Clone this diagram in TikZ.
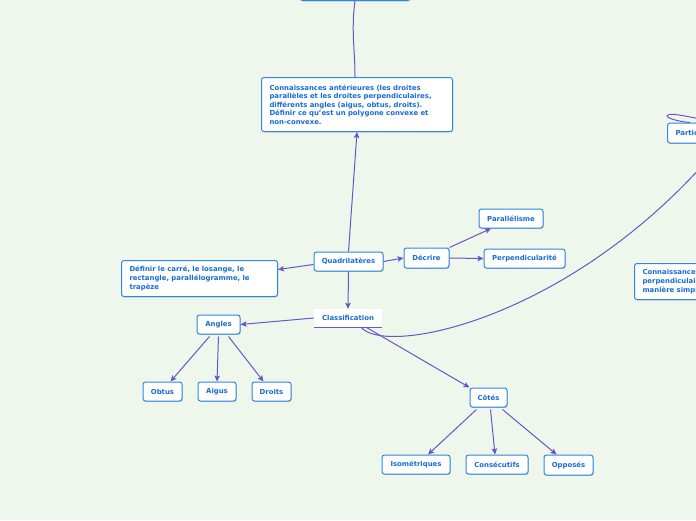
\documentclass[tikz,border=0pt]{standalone}
\usepackage{fontspec}
\setmainfont{DejaVu Sans}
\usetikzlibrary{arrows.meta,shadows,calc}
\definecolor{bgc}{RGB}{239,247,236}
\definecolor{nodeblue}{RGB}{44,136,228}
\definecolor{textblue}{RGB}{22,108,214}
\definecolor{linepurple}{RGB}{104,86,200}
\tikzset{
  box/.style={draw=nodeblue, line width=1pt, rounded corners=2.5pt, fill=white,
    text=textblue, font=\bfseries\fontsize{6.9}{8.6}\selectfont, inner sep=0pt,
    drop shadow={shadow xshift=0.6pt, shadow yshift=-0.9pt, fill=black, opacity=0.22}},
  tbox/.style={box, align=left, inner xsep=8pt, inner ysep=4pt},
  conn/.style={draw=linepurple, line width=1pt, -{Stealth[length=6pt,width=5.5pt,inset=1.2pt]}},
  plain/.style={draw=linepurple, line width=1pt}
}
\begin{document}
\begin{tikzpicture}[x=1pt,y=-1pt]
\fill[bgc] (0,0) rectangle (696,520);
\useasboundingbox (0,0) rectangle (696,520);
\clip (0,0) rectangle (696,520);

% nodes
\node[box, minimum width=110, minimum height=22, anchor=south] (top) at (355,1) {};
\node[tbox, text width=175, minimum height=54, anchor=north west] (con) at (261,77)
  {Connaissances antérieures (les droites\\parallèles et les droites perpendiculaires,\\différents angles (aigus, obtus, droits).\\Définir ce qu'est un polygone convexe et\\non-convexe.};
\node[box, minimum width=69, minimum height=19] (q) at (348.5,261.5) {Quadrilatères};
\node[tbox, text width=140, minimum height=36, anchor=north west] (def) at (121,260)
  {Définir le carré, le losange, le\\rectangle, parallélogramme, le\\trapèze};
\node[box, minimum width=45, minimum height=20] (dec) at (426.5,258) {Décrire};
\node[box, minimum width=64, minimum height=19] (par) at (511,218.5) {Parallélisme};
\node[box, minimum width=81, minimum height=19] (perp) at (524.5,258.5) {Perpendicularité};
\node[fill=white, text=textblue, font=\bfseries\fontsize{6.9}{8.6}\selectfont,
  minimum width=68, minimum height=18, inner sep=0pt] (cls) at (348,318) {Classification};
\draw[linepurple, line width=1pt] (cls.south west) -- (cls.south east);
\node[box, minimum width=43, minimum height=19] (ang) at (218.5,324.5) {Angles};
\node[box, minimum width=39, minimum height=19] (obt) at (162.5,391.5) {Obtus};
\node[box, minimum width=38, minimum height=19] (aig) at (217,391.5) {Aigus};
\node[box, minimum width=39, minimum height=19] (dro) at (271.5,391.5) {Droits};
\node[box, minimum width=37, minimum height=19] (cot) at (488.5,397.5) {Côtés};
\node[box, minimum width=68, minimum height=19] (iso) at (416,464.5) {Isométriques};
\node[box, minimum width=62, minimum height=19] (cons) at (497,464.5) {Consécutifs};
\node[box, minimum width=49, minimum height=20] (opp) at (568.5,465) {Opposés};
\node[box, minimum width=70, minimum height=20, anchor=west, text width=60, align=left, inner xsep=8pt] (part) at (667,133) {Particularités};
\node[tbox, text width=90, minimum height=36, anchor=north west] (con2) at (634,263)
  {Connaissances\\perpendiculaires\\manière simple};

% connectors
\draw[plain] (top.south) .. controls (351,30) and (355,50) .. (con.north -| top.south);
\draw[conn] (q.north) -- (con.south);
\draw[conn] ($(q.west)+(0,3)$) -- ($(def.east)+(0,-9)$);
\draw[conn] (q.east) -- (dec.west);
\draw[conn] (q.south) -- (cls.north);
\draw[conn] (dec.north east) -- ($(par.south)+(-20,0)$);
\draw[conn] (dec.east) -- (perp.west);
\draw[conn] (cls.west) -- (ang.east);
\draw[conn] ($(ang.south)+(-9,2)$) -- ($(obt.north)+(8,0)$);
\draw[conn] ($(ang.south)+(0,2)$) -- (aig.north);
\draw[conn] ($(ang.south)+(10,2)$) -- ($(dro.north)+(-8,0)$);
\draw[conn] ($(cls.south)+(18,0)$) -- (cot.north west);
\draw[conn] ($(cot.south)+(-12,2)$) -- ($(iso.north)+(12,0)$);
\draw[conn] ($(cot.south)+(2,2)$) -- ($(cons.north)+(-2,0)$);
\draw[conn] ($(cot.south)+(14,2)$) -- ($(opp.north)+(-12,0)$);

\coordinate (pend) at (702,166);
\draw[plain] ($(cls.south)+(13,0)$) .. controls (385,356) and (560,322) .. (pend);
\coordinate (lp) at (700,119);
\draw[plain] (lp) .. controls (685,116) and (668,112) .. (667,116)
  .. controls (668,119) and (682,122) .. (part.north -| 690,0);
\end{tikzpicture}
\end{document}
